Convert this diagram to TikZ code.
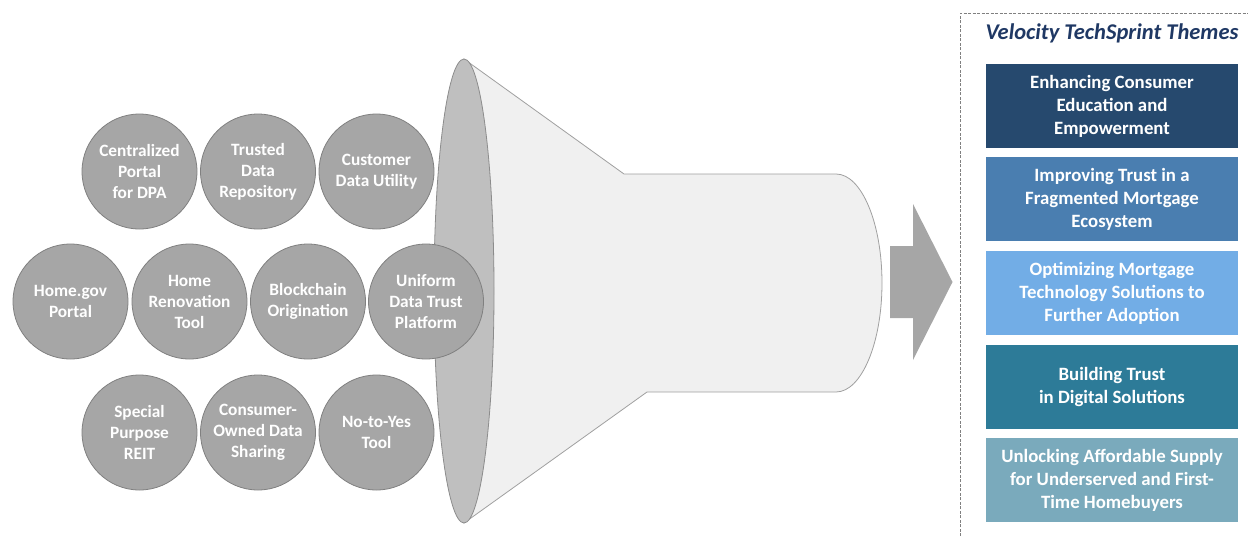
\documentclass[tikz,border=0pt]{standalone}
\usepackage{fontspec}
\setmainfont{Carlito}
\definecolor{bubblefill}{RGB}{166,166,166}
\definecolor{bubbleedge}{RGB}{128,128,128}
\definecolor{conefill}{RGB}{240,240,240}
\definecolor{coneedge}{RGB}{160,160,160}
\definecolor{mouthfill}{RGB}{191,191,191}
\definecolor{mouthedge}{RGB}{140,140,140}
\definecolor{arrowgray}{RGB}{166,166,166}
\definecolor{frameedge}{RGB}{128,128,128}
\definecolor{titleblue}{RGB}{31,56,100}
\definecolor{themeA}{RGB}{38,73,110}
\definecolor{themeB}{RGB}{74,126,176}
\definecolor{themeC}{RGB}{114,173,230}
\definecolor{themeD}{RGB}{45,123,152}
\definecolor{themeE}{RGB}{122,170,188}
\begin{document}
\begin{tikzpicture}[x=1pt,y=-1pt,
  bubble/.style={circle, draw=bubbleedge, fill=bubblefill, line width=0.8pt,
    minimum size=115pt, inner sep=0pt, text=white, align=center,
    font=\bfseries\fontsize{17.3}{21}\selectfont},
  theme/.style={rectangle, minimum width=252pt, minimum height=84pt, inner sep=0pt,
    text=white, align=center, font=\bfseries\fontsize{18.8}{23}\selectfont},
  cone/.style={fill=conefill, draw=coneedge, line width=0.8pt},
  mouth/.style={fill=mouthfill, draw=mouthedge, line width=0.8pt},
  frame/.style={draw=frameedge, line width=0.9pt, dash pattern=on 3pt off 1.5pt}]
\useasboundingbox (0,0) rectangle (1248,536);
% funnel body
\draw[cone] (464,59) -- (624,174) -- (836,174)
  arc[start angle=-90, end angle=90, x radius=46, y radius=109]
  -- (647,392) -- (464,523) -- cycle;
\draw[mouth] (464,291) ellipse [x radius=30, y radius=232];
% idea bubbles
\node[bubble] (b1) at (139.5,171.5) {Centralized\\Portal\\for DPA};
\node[bubble] (b2) at (258,171.5) {Trusted\\Data\\Repository};
\node[bubble] (b3) at (376.5,171.5) {Customer\\Data Utility};
\node[bubble] (b4) at (70.5,301.5) {Home.gov\\Portal};
\node[bubble] (b5) at (189.5,301.5) {Home\\Renovation\\Tool};
\node[bubble] (b6) at (308,301.5) {Blockchain\\Origination};
\node[bubble] (b7) at (426,301.5) {Uniform\\Data Trust\\Platform};
\node[bubble] (b8) at (139.5,432.5) {Special\\Purpose\\REIT};
\node[bubble] (b9) at (258,432.5) {Consumer-\\Owned Data\\Sharing};
\node[bubble] (b10) at (376.5,432.5) {No-to-Yes\\Tool};
% arrow
\fill[arrowgray] (890,246) -- (913,246) -- (913,204) -- (952.5,282)
  -- (913,360) -- (913,318) -- (890,318) -- cycle;
% themes frame
\draw[frame] (960,536) -- (960,13) -- (1248,13);
\node[text=titleblue, font=\bfseries\itshape\fontsize{22.5}{27}\selectfont] (title) at (1112,33) {Velocity TechSprint Themes};
\node[theme, fill=themeA] (t1) at (1112,106) {Enhancing Consumer\\Education and\\Empowerment};
\node[theme, fill=themeB] (t2) at (1112,199) {Improving Trust in a\\Fragmented Mortgage\\Ecosystem};
\node[theme, fill=themeC] (t3) at (1112,293) {Optimizing Mortgage\\Technology Solutions to\\Further Adoption};
\node[theme, fill=themeD] (t4) at (1112,387) {Building Trust\\in Digital Solutions};
\node[theme, fill=themeE] (t5) at (1112,480) {Unlocking Affordable Supply\\for Underserved and First-\\Time Homebuyers};
\end{tikzpicture}
\end{document}
